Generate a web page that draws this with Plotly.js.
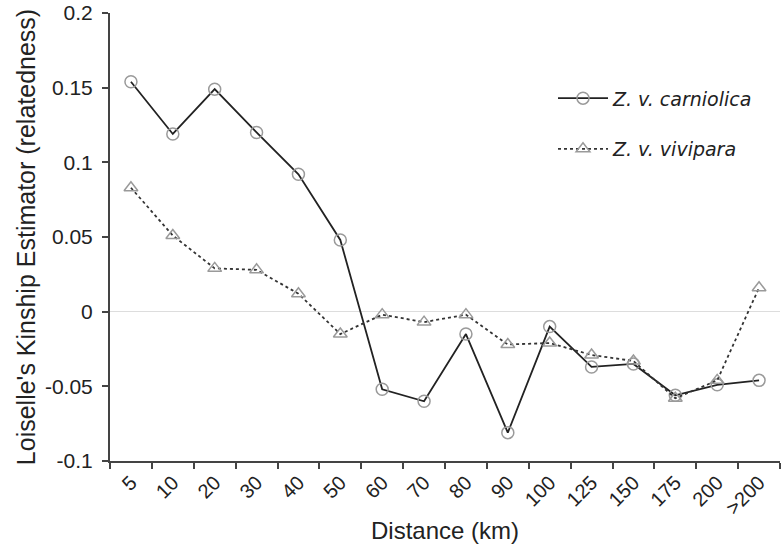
<!DOCTYPE html>
<html>
<head>
<meta charset="utf-8">
<script src="https://cdn.plot.ly/plotly-3.0.1.min.js"></script>
<style>html,body{margin:0;padding:0;background:#fff;}#chart{width:781px;height:547px;}</style>
</head>
<body>
<div id="chart"></div>
<script>
const distances = ["5","10","20","30","40","50","60","70","80","90","100","125","150","175","200",">200"];
const carniolica = [0.154,0.119,0.149,0.120,0.092,0.048,-0.052,-0.060,-0.015,-0.081,-0.010,-0.037,-0.035,-0.056,-0.049,-0.046];
const vivipara = [0.083,0.051,0.029,0.028,0.012,-0.015,-0.002,-0.007,-0.002,-0.022,-0.021,-0.029,-0.033,-0.058,-0.046,0.016];
const yTicks = [-0.1,-0.05,0,0.05,0.1,0.15,0.2];
const yTickText = ["-0.1","-0.05","0","0.05","0.1","0.15","0.2"];

const traces = [
  {x: distances, y: carniolica, name: "Z. v. carniolica", type: "scatter", mode: "lines+markers",
   legendgroup: "a",
   line: {color: "#222", width: 1.8, dash: "solid"},
   marker: {symbol: "circle-open", size: 12, color: "#9a9a9a", line: {width: 1.5, color: "#9a9a9a"}}},
  {x: distances, y: vivipara, name: "Z. v. vivipara", type: "scatter", mode: "lines+markers",
   legendgroup: "b",
   line: {color: "#333", width: 1.8, dash: "dot"},
   marker: {symbol: "triangle-up-open", size: 12, color: "#9a9a9a", line: {width: 1.5, color: "#9a9a9a"}}}
];

const layout = {
  width: 781, height: 547,
  margin: {l: 110, r: 1, t: 13, b: 86},
  paper_bgcolor: "#fff", plot_bgcolor: "#fff",
  font: {family: "Liberation Sans, Arial, sans-serif", size: 21, color: "#222"},
  showlegend: true,
  legend: {x: 0.6612, xanchor: "left", y: 0.852, yanchor: "top", bgcolor: "rgba(0,0,0,0)",
    traceorder: "grouped", tracegroupgap: 23, itemwidth: 50,
    font: {family: "DejaVu Sans, Verdana, sans-serif", size: 19, style: "italic", color: "#222"}},
  xaxis: {type: "category", tickson: "boundaries", ticks: "outside", ticklen: 6, tickwidth: 2, tickcolor: "#444",
    showline: true, linecolor: "#444", linewidth: 2, showgrid: false, zeroline: false,
    tickangle: -45, tickfont: {size: 20, color: "#222"},
    title: {text: "Distance (km)", font: {size: 24, color: "#222"}, standoff: 4},
    range: [-0.5, 15.5]},
  yaxis: {range: [-0.1, 0.2], tickvals: yTicks, ticktext: yTickText, ticks: "outside", ticklen: 6, tickwidth: 2, tickcolor: "#444",
    showline: true, linecolor: "#444", linewidth: 2, showgrid: false,
    zeroline: true, zerolinecolor: "#dddddd", zerolinewidth: 1.5,
    ticklabeloverflow: "allow", ticklabelstandoff: 5,
    tickfont: {size: 21, color: "#222"},
    title: {text: "Loiselle's Kinship Estimator (relatedness)", font: {size: 25, color: "#222"}, standoff: 2}}
};

Plotly.newPlot("chart", traces, layout, {displayModeBar: false, staticPlot: true});
</script>
</body>
</html>
